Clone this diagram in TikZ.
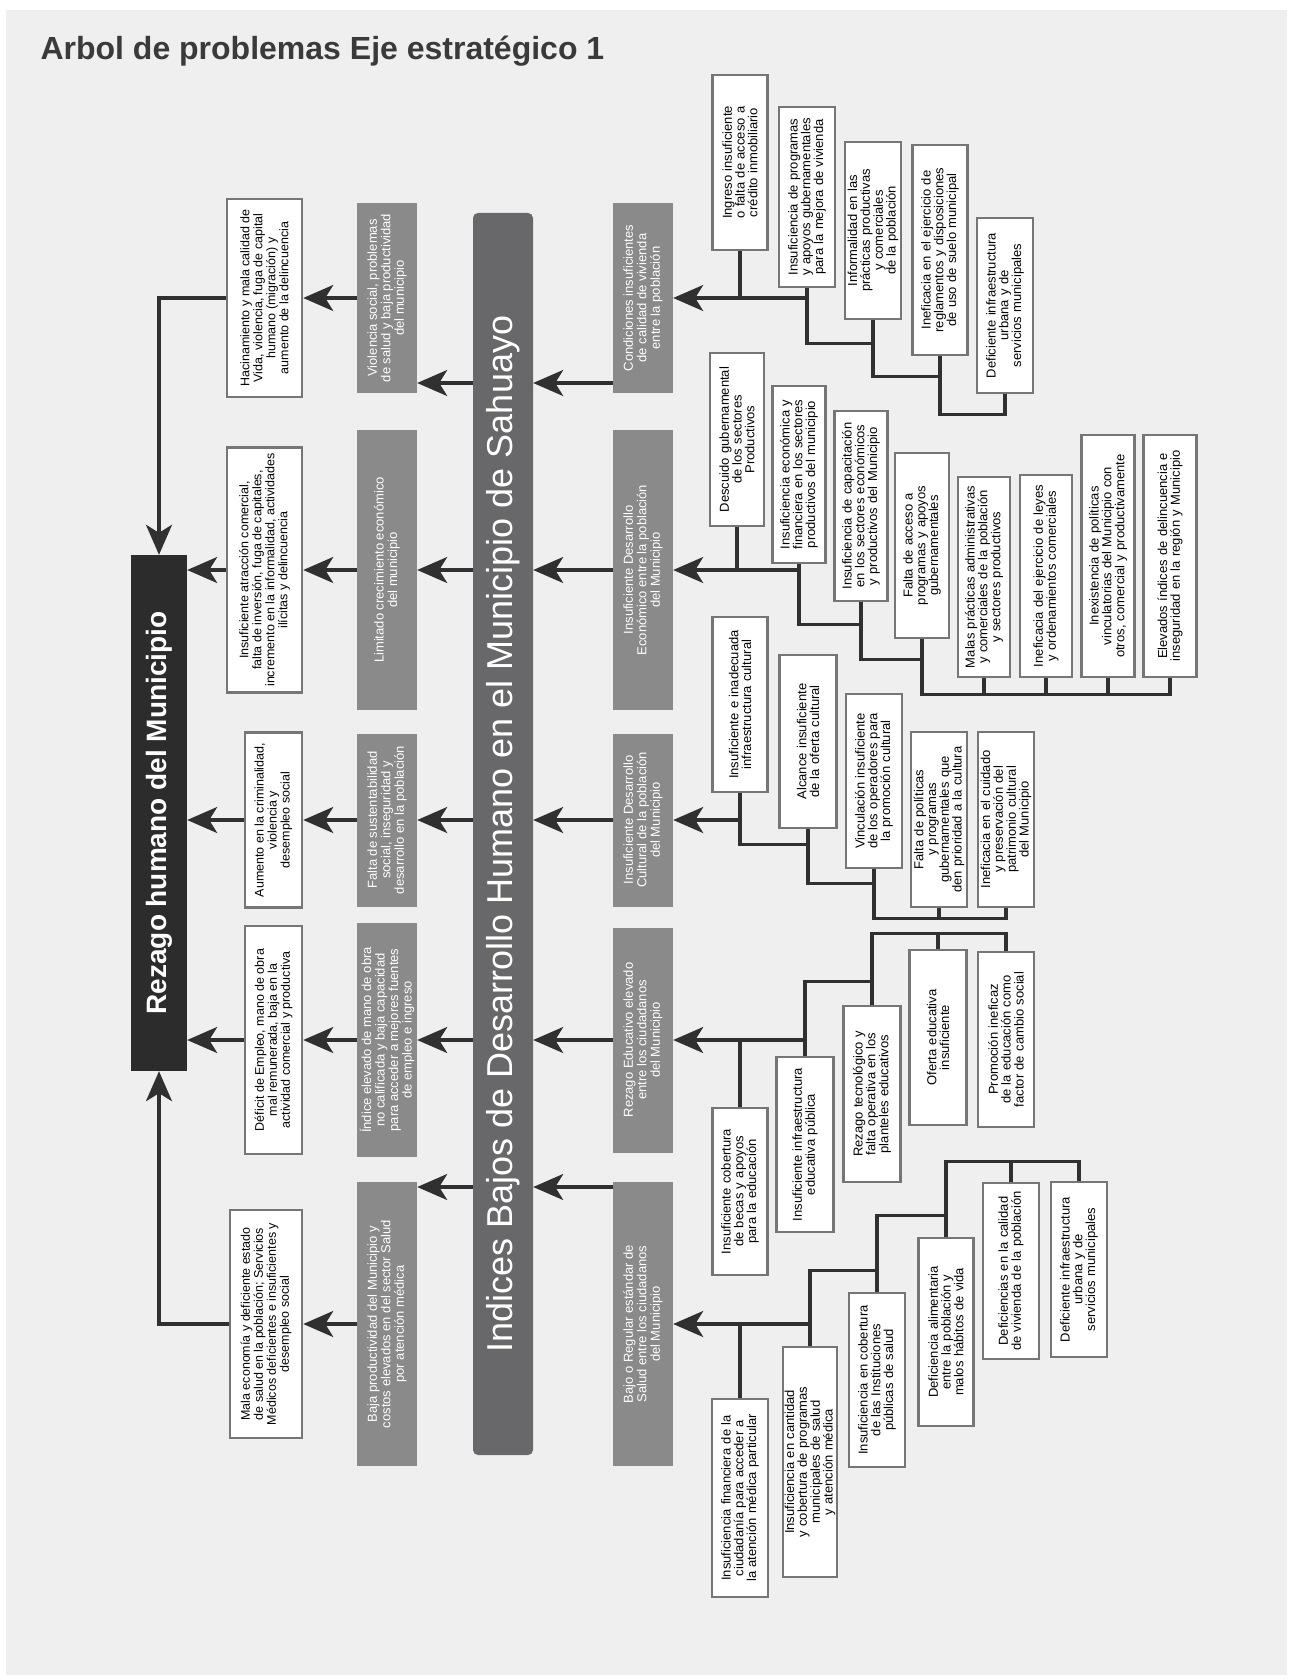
\documentclass[tikz,border=0pt]{standalone}
\usepackage{fontspec}
\setmainfont{Liberation Sans}
\usetikzlibrary{arrows.meta}

\definecolor{fondo}{RGB}{239,239,239}
\definecolor{borde}{RGB}{118,118,118}
\definecolor{grismedio}{RGB}{138,138,138}
\definecolor{barra}{RGB}{104,104,106}
\definecolor{oscuro}{RGB}{44,44,44}
\definecolor{trazo}{RGB}{48,48,48}
\definecolor{titulo}{RGB}{58,58,58}

\hyphenpenalty=10000
\exhyphenpenalty=10000

\begin{document}
\begin{tikzpicture}[x=1pt, y=1pt]

% Define block styles
\tikzstyle{causa} = [rectangle, rotate=90, draw=borde, line width=2.5pt, fill=white, text=black, align=center, inner sep=0pt, font=\fontsize{13}{12.8}\selectfont]
\tikzstyle{efecto} = [causa, font=\fontsize{12.5}{13}\selectfont]
\tikzstyle{gris} = [rectangle, rotate=90, fill=grismedio, text=white, align=center, inner sep=0pt, font=\fontsize{13}{13.5}\selectfont]
\tikzstyle{linea} = [line width=3.3pt, draw=trazo]
\tikzstyle{arrow} = [linea, -{Stealth[length=30pt, width=26pt, inset=8pt]}]

% Background
\fill[white] (0,0) rectangle (1291,-1680);
\fill[fondo] (6,-10) rectangle (1287,-1675);
\useasboundingbox (0,0) rectangle (1291,-1680);

% Title
\node[anchor=base west, text=titulo, font=\fontsize{32}{36}\selectfont\bfseries] (titulo) at (37,-60) {Arbol de problemas Eje estratégico 1};

% Main nodes
\node[rectangle, rotate=90, fill=oscuro, text=white, minimum width=516, minimum height=56, font=\fontsize{28}{30}\selectfont\bfseries] (rezago) at (159,-813) {Rezago humano del Municipio};
\node[rectangle, rounded corners=5pt, rotate=90, fill=barra, text=white, minimum width=1242, minimum height=60, font=\fontsize{36}{40}\selectfont] (indices) at (503,-834) {Indices Bajos de Desarrollo Humano en el Municipio de Sahuayo};

% Effects
\node[efecto, minimum width=198, minimum height=75] (efe1) at (264.5,-298) {Hacinamiento y mala calidad de\\Vida, violencia, fuga de capital\\humano (migración) y\\aumento de la delincuencia};
\node[efecto, minimum width=245, minimum height=75] (efe2) at (264.5,-570) {Insuficiente atracción comercial,\\falta de inversión, fuga de capitales,\\incremento en la informalidad, actividades\\ilícitas y delincuencia};
\node[efecto, minimum width=175, minimum height=57] (efe3) at (273.5,-820) {Aumento en la criminalidad,\\violencia y\\desempleo social};
\node[efecto, minimum width=228, minimum height=57] (efe4) at (273.5,-1040) {Déficit de Empleo, mano de obra\\mal remunerada, baja en la\\actividad comercial y productiva};
\node[efecto, minimum width=228, minimum height=72] (efe5) at (266,-1324) {Mala economía y deficiente estado\\de salud en la población; Servicios\\Médicos deficientes e insuficientes y\\desempleo social};

% Consequences
\node[gris, minimum width=190, minimum height=60] (con1) at (387,-298) {Violencia social, problemas\\de salud y baja productividad\\del municipio};
\node[gris, minimum width=280, minimum height=60] (con2) at (387,-570) {Limitado crecimiento económico\\del municipio};
\node[gris, minimum width=173, minimum height=60] (con3) at (387,-820) {Falta de sustentabilidad\\social, inseguridad y\\desarrollo en la población};
\node[gris, minimum width=234, minimum height=60] (con4) at (387,-1040) {Índice elevado de mano de obra\\no calificada y baja capacidad\\para acceder a mejores fuentes\\de empleo e ingreso};
\node[gris, minimum width=284, minimum height=60] (con5) at (387,-1324) {Baja productividad del Municipio y\\costos elevados en del sector Salud\\por atención médica};

% Direct causes
\node[gris, minimum width=190, minimum height=60] (vivienda) at (643,-298) {Condiciones insuficientes\\de calidad de vivienda\\entre la población};
\node[gris, minimum width=280, minimum height=60] (economia) at (643,-570) {Insuficiente Desarrollo\\Económico entre la población\\del Municipio};
\node[gris, minimum width=173, minimum height=60] (cultura) at (643,-820) {Insuficiente Desarrollo\\Cultural de la población\\del Municipio};
\node[gris, minimum width=225, minimum height=60] (educacion) at (643,-1040) {Rezago Educativo elevado\\entre los ciudadanos\\del Municipio};
\node[gris, minimum width=284, minimum height=60] (salud) at (643,-1324) {Bajo o Regular estándar de\\Salud entre los ciudadanos\\del Municipio};

% Causes: vivienda
\node[causa, minimum width=175, minimum height=55, text width=159] (viv1) at (740,-162.5) {Ingreso insuficiente o falta de acceso a crédito inmobiliario};
\node[causa, minimum width=180, minimum height=56, text width=164] (viv2) at (807,-197) {Insuficiencia de programas y apoyos gubernamentales para la mejora de vivienda};
\node[causa, minimum width=177, minimum height=56, text width=161] (viv3) at (873,-230.5) {Informalidad en las prácticas productivas y comerciales de la población};
\node[causa, minimum width=210, minimum height=55, text width=190] (viv4) at (940,-250) {Ineficacia en el ejercicio de reglamentos y disposiciones de uso de suelo municipal};
\node[causa, minimum width=175, minimum height=56, text width=159] (viv5) at (1005,-305.5) {Deficiente infraestructura urbana y de servicios municipales};

% Causes: economia
\node[causa, minimum width=173, minimum height=54, text width=157] (eco1) at (737,-439.5) {Descuido gubernamental de los sectores Productivos};
\node[causa, minimum width=177, minimum height=53, text width=161] (eco2) at (799,-474.5) {Insuficiencia económica y financiera en los sectores productivos del municipio};
\node[causa, minimum width=190, minimum height=53, text width=174] (eco3) at (861,-506) {Insuficiencia de capacitación en los sectores económicos y productivos del Municipio};
\node[causa, minimum width=185, minimum height=54, text width=169] (eco4) at (922,-545.5) {Falta de acceso a programas y apoyos gubernamentales};
\node[causa, minimum width=200, minimum height=52, text width=184] (eco5) at (984,-577) {Malas prácticas administrativas y comerciales de la población y sectores productivos};
\node[causa, minimum width=202, minimum height=52, text width=186] (eco6) at (1046,-576) {Ineficacia del ejercicio de leyes y ordenamientos comerciales};
\node[causa, minimum width=242, minimum height=53, text width=224] (eco7) at (1108,-556) {Inexistencia de políticas vinculatorias del Municipio con otros, comercial y productivamente};
\node[causa, minimum width=242, minimum height=53, text width=224] (eco8) at (1170,-556) {Elevados índices de delincuencia e inseguridad en la región y Municipio};

% Causes: cultura
\node[causa, minimum width=175, minimum height=55, text width=159] (cul1) at (740,-704.5) {Insuficiente e inadecuada infraestructura cultural};
\node[causa, minimum width=173, minimum height=57, text width=157] (cul2) at (808,-741.5) {Alcance insuficiente de la oferta cultural};
\node[causa, minimum width=174, minimum height=56, text width=158] (cul3) at (874,-781) {Vinculación insuficiente de los operadores para la promoción cultural};
\node[causa, minimum width=175, minimum height=56, text width=159] (cul4) at (939,-819.5) {Falta de políticas y programas gubernamentales que den prioridad a la cultura};
\node[causa, minimum width=175, minimum height=56, text width=159] (cul5) at (1006,-819.5) {Ineficacia en el cuidado y preservación del patrimonio cultural del Municipio};

% Causes: educacion
\node[causa, minimum width=167, minimum height=55, text width=151] (edu1) at (740,-1191.5) {Insuficiente cobertura de becas y apoyos para la educación};
\node[causa, minimum width=175, minimum height=57, text width=159] (edu2) at (805,-1144.5) {Insuficiente infraestructura educativa pública};
\node[causa, minimum width=176, minimum height=57, text width=160] (edu3) at (872,-1094) {Rezago tecnológico y falta operativa en los planteles educativos};
\node[causa, minimum width=175, minimum height=57, text width=159] (edu4) at (938,-1037.5) {Oferta educativa insuficiente};
\node[causa, minimum width=175, minimum height=56, text width=159] (edu5) at (1006,-1039.5) {Promoción ineficaz de la educación como factor de cambio social};

% Causes: salud
\node[causa, minimum width=198, minimum height=56, text width=180] (sal1) at (740,-1498) {Insuficiencia financiera de la ciudadanía para acceder a la atención médica particular};
\node[causa, minimum width=230, minimum height=54, text width=212] (sal2) at (810,-1462) {Insuficiencia en cantidad y cobertura de programas municipales de salud y atención médica};
\node[causa, minimum width=174, minimum height=56, text width=158] (sal3) at (877,-1380) {Insuficiencia en cobertura de las Instituciones públicas de salud};
\node[causa, minimum width=188, minimum height=55, text width=172] (sal4) at (946,-1332) {Deficiencia alimentaria entre la población y malos hábitos de vida};
\node[causa, minimum width=176, minimum height=56, text width=160] (sal5) at (1011,-1271) {Deficiencias en la calidad de vivienda de la población};
\node[causa, minimum width=175, minimum height=56, text width=159] (sal6) at (1079,-1269.5) {Deficiente infraestructura urbana y de servicios municipales};

% Levels of the outer bar arrows
\coordinate (nivel1) at (0,-383);
\coordinate (nivel5) at (0,-1187);

% Arrows to Rezago
\draw [arrow] (efe1.north) -| (rezago.east);
\draw [arrow] (efe2.north) -- (efe2.north -| rezago.south);
\draw [arrow] (efe3.north) -- (efe3.north -| rezago.south);
\draw [arrow] (efe4.north) -- (efe4.north -| rezago.south);
\draw [arrow] (efe5.north) -| (rezago.west);

% Arrows to effects
\draw [arrow] (con1.north) -- (con1.north -| efe1.south);
\draw [arrow] (con2.north) -- (con2.north -| efe2.south);
\draw [arrow] (con3.north) -- (con3.north -| efe3.south);
\draw [arrow] (con4.north) -- (con4.north -| efe4.south);
\draw [arrow] (con5.north) -- (con5.north -| efe5.south);

% Arrows from the bar
\draw [arrow] (indices.north |- nivel1) -- (con1.south |- nivel1);
\draw [arrow] (indices.north |- con2.south) -- (con2.south);
\draw [arrow] (indices.north |- con3.south) -- (con3.south);
\draw [arrow] (indices.north |- con4.south) -- (con4.south);
\draw [arrow] (indices.north |- nivel5) -- (con5.south |- nivel5);

% Arrows to the bar
\draw [arrow] (vivienda.north |- nivel1) -- (indices.south |- nivel1);
\draw [arrow] (economia.north) -- (economia.north -| indices.south);
\draw [arrow] (cultura.north) -- (cultura.north -| indices.south);
\draw [arrow] (educacion.north) -- (educacion.north -| indices.south);
\draw [arrow] (salud.north |- nivel5) -- (indices.south |- nivel5);

% Vivienda tree
\draw [arrow] (viv2.west) |- (vivienda.south);
\draw [linea] (viv1.west) -- (viv1.west |- vivienda.south);
\draw [linea] (viv3.west) -- ++(0,-23) -| (viv2.west);
\draw [linea] (viv4.west) -- ++(0,-20) -| (viv3.west);
\draw [linea] (viv5.west) -- ++(0,-20) -| (viv4.west);

% Economia tree
\draw [arrow] (eco2.west) |- (economia.south);
\draw [linea] (eco1.west) -- (eco1.west |- economia.south);
\draw [linea] (eco3.west) -- ++(0,-22) -| (eco2.west);
\draw [linea] (eco4.west) -- ++(0,-20) -| (eco3.west);
\draw [linea] (eco4.west) -- ++(0,-55) -| (eco8.west);
\draw [linea] (eco5.west) -- ++(0,-16);
\draw [linea] (eco6.west) -- ++(0,-16);
\draw [linea] (eco7.west) -- ++(0,-16);

% Cultura tree
\draw [arrow] (cul1.west) |- (cultura.south);
\draw [linea] (cul1.west) -- ++(0,-51) -| (cul2.west);
\draw [linea] (cul2.west) -- ++(0,-54) -| (cul3.west);
\draw [linea] (cul3.west) -- ++(0,-49) -| (cul5.west);
\draw [linea] (cul4.west) -- ++(0,-10);

% Educacion tree
\draw [arrow] (edu2.east) |- (educacion.south);
\draw [linea] (edu1.east) -- (edu1.east |- educacion.south);
\draw [linea] (edu2.east) -- ++(0,74) -| (edu3.east);
\draw [linea] (edu3.east) -- ++(0,71) -| (edu5.east);
\draw [linea] (edu4.east) -- ++(0,15);

% Salud tree
\draw [arrow] (sal2.east) |- (salud.south);
\draw [linea] (sal1.east) -- (sal1.east |- salud.south);
\draw [linea] (sal2.east) -- ++(0,75) -| (sal3.east);
\draw [linea] (sal3.east) -- ++(0,76) -| (sal4.east);
\draw [linea] (sal4.east) -- ++(0,75) -| (sal6.east);
\draw [linea] (sal5.east) -- ++(0,20);

\end{tikzpicture}
\end{document}
